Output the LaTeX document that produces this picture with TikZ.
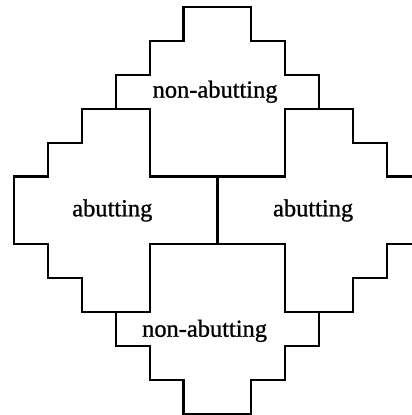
\documentclass[tikz,border=0pt]{standalone}
\usepackage{fontspec}
\setmainfont{Liberation Serif}
\newfontfamily\labelfont[FakeBold=1]{Liberation Serif}

\begin{document}
\begin{tikzpicture}[
  x=1cm, y=-1cm,
  region/.style={draw=black, line width=1.8pt, line join=miter},
  regionlabel/.style={font=\labelfont\fontsize{20.5}{24}\selectfont, inner sep=0pt}
]
\clip (-0.412,-0.206) rectangle (11.735,12.03);
% outer outline of the four regions
\draw[region] (5,0) -- (7,0) -- (7,1) -- (8,1) -- (8,2) -- (9,2) -- (9,3) -- (10,3)
  -- (10,4) -- (11,4) -- (11,5) -- (12,5) -- (12,7) -- (11,7) -- (11,8) -- (10,8)
  -- (10,9) -- (9,9) -- (9,10) -- (8,10) -- (8,11) -- (7,11) -- (7,12) -- (5,12)
  -- (5,11) -- (4,11) -- (4,10) -- (3,10) -- (3,9) -- (2,9) -- (2,8) -- (1,8)
  -- (1,7) -- (0,7) -- (0,5) -- (1,5) -- (1,4) -- (2,4) -- (2,3) -- (3,3)
  -- (3,2) -- (4,2) -- (4,1) -- (5,1) -- cycle;
% inner borders
\draw[region] (3,3) -- (4,3) -- (4,5) -- (8,5) -- (8,3) -- (9,3);
\draw[region] (3,9) -- (4,9) -- (4,7) -- (8,7) -- (8,9) -- (9,9);
\draw[region] (6,5) -- (6,7);
\node[regionlabel] (topNA) at (5.93,2.5)  {non-abutting};
\node[regionlabel] (botNA) at (5.62,9.55) {non-abutting};
\node[regionlabel] (leftA) at (2.9,6.0)   {abutting};
\node[regionlabel] (rightA) at (8.82,6.0) {abutting};
\end{tikzpicture}
\end{document}
